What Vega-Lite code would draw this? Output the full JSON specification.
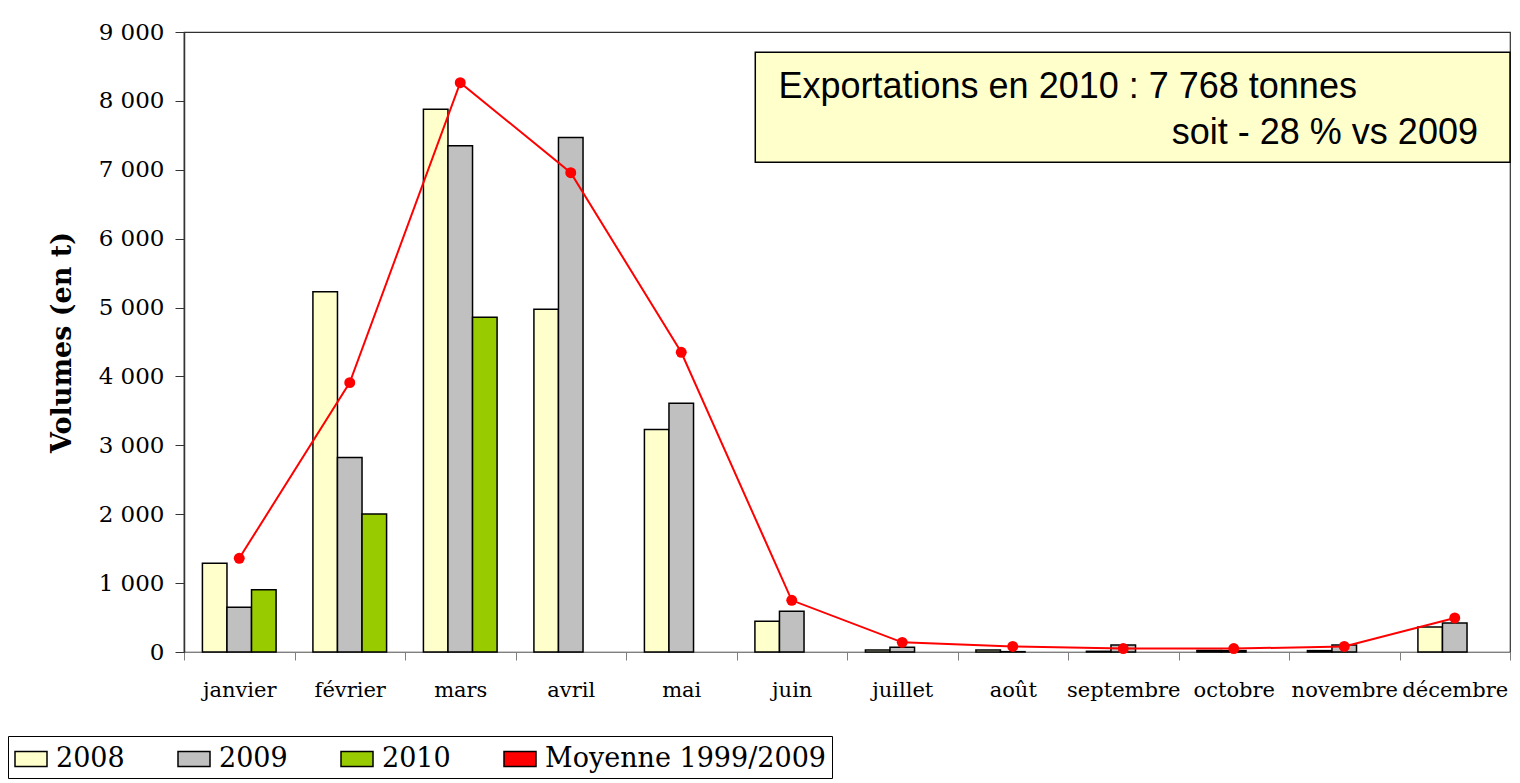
{
  "$schema": "https://vega.github.io/schema/vega-lite/v6.json",
  "autosize": {"type": "none"},
  "padding": {"left": 184, "top": 32, "right": 10, "bottom": 131},
  "width": 1326,
  "height": 620,
  "background": "white",
  "config": {
    "view": {"stroke": "#303030", "strokeWidth": 1.2},
    "axis": {"grid": false}
  },
  "datasets": {
    "barres": [
      {"mois": "janvier", "annee": "2008", "volume": 1287},
      {"mois": "janvier", "annee": "2009", "volume": 649},
      {"mois": "janvier", "annee": "2010", "volume": 905},
      {"mois": "février", "annee": "2008", "volume": 5230},
      {"mois": "février", "annee": "2009", "volume": 2822},
      {"mois": "février", "annee": "2010", "volume": 2005},
      {"mois": "mars", "annee": "2008", "volume": 7877},
      {"mois": "mars", "annee": "2009", "volume": 7350},
      {"mois": "mars", "annee": "2010", "volume": 4858},
      {"mois": "avril", "annee": "2008", "volume": 4975},
      {"mois": "avril", "annee": "2009", "volume": 7470},
      {"mois": "mai", "annee": "2008", "volume": 3230},
      {"mois": "mai", "annee": "2009", "volume": 3610},
      {"mois": "juin", "annee": "2008", "volume": 446},
      {"mois": "juin", "annee": "2009", "volume": 591},
      {"mois": "juillet", "annee": "2008", "volume": 30},
      {"mois": "juillet", "annee": "2009", "volume": 70},
      {"mois": "août", "annee": "2008", "volume": 30},
      {"mois": "août", "annee": "2009", "volume": 5},
      {"mois": "septembre", "annee": "2008", "volume": 10},
      {"mois": "septembre", "annee": "2009", "volume": 100},
      {"mois": "octobre", "annee": "2008", "volume": 20},
      {"mois": "octobre", "annee": "2009", "volume": 20},
      {"mois": "novembre", "annee": "2008", "volume": 20},
      {"mois": "novembre", "annee": "2009", "volume": 100},
      {"mois": "décembre", "annee": "2008", "volume": 363},
      {"mois": "décembre", "annee": "2009", "volume": 421}
    ],
    "moyenne": [
      {"mois": "janvier", "volume": 1360},
      {"mois": "février", "volume": 3910},
      {"mois": "mars", "volume": 8264},
      {"mois": "avril", "volume": 6958},
      {"mois": "mai", "volume": 4350},
      {"mois": "juin", "volume": 750},
      {"mois": "juillet", "volume": 140},
      {"mois": "août", "volume": 80},
      {"mois": "septembre", "volume": 50},
      {"mois": "octobre", "volume": 50},
      {"mois": "novembre", "volume": 80},
      {"mois": "décembre", "volume": 494}
    ],
    "note": [{"l1": "Exportations en 2010 : 7 768 tonnes", "l2": "soit - 28 % vs 2009"}]
  },
  "encoding": {
    "x": {
      "field": "mois",
      "type": "nominal",
      "sort": null,
      "scale": {
        "type": "band",
        "domain": ["janvier", "février", "mars", "avril", "mai", "juin", "juillet", "août", "septembre", "octobre", "novembre", "décembre"],
        "paddingInner": 0,
        "paddingOuter": 0
      },
      "axis": {
        "title": null,
        "labelAngle": 0,
        "labelFont": "DejaVu Serif",
        "labelFontSize": 21,
        "labelColor": "#000000",
        "labelPadding": 19,
        "labelOverlap": false,
        "tickBand": "extent",
        "tickSize": 8,
        "tickColor": "#808080",
        "domainColor": "#808080",
        "domainWidth": 1.2
      }
    }
  },
  "layer": [
    {
      "data": {"name": "barres"},
      "mark": {"type": "bar", "stroke": "#000000", "strokeWidth": 1.5},
      "encoding": {
        "xOffset": {
          "field": "annee",
          "type": "nominal",
          "scale": {"domain": ["2008", "2009", "2010"], "paddingInner": 0, "paddingOuter": 0.75}
        },
        "y": {
          "field": "volume",
          "type": "quantitative",
          "scale": {"domain": [0, 9000], "nice": false},
          "axis": {
            "title": "Volumes (en t)",
            "titleFont": "DejaVu Serif",
            "titleFontSize": 27,
            "titleFontWeight": "bold",
            "titleColor": "#000000",
            "titleX": -122,
            "titleY": 310,
            "titleAngle": -90,
            "titleAlign": "center",
            "titleBaseline": "middle",
            "values": [0, 1000, 2000, 3000, 4000, 5000, 6000, 7000, 8000, 9000],
            "labelExpr": "datum.value == 0 ? '0' : floor(datum.value / 1000) + ' 000'",
            "labelFont": "DejaVu Serif",
            "labelFontSize": 23,
            "labelColor": "#000000",
            "labelPadding": 11,
            "tickSize": 9,
            "tickColor": "#333333",
            "domainColor": "#333333",
            "domainWidth": 1.5
          }
        },
        "color": {
          "field": "annee",
          "type": "nominal",
          "scale": {
            "domain": ["2008", "2009", "2010", "Moyenne 1999/2009"],
            "range": ["#FFFFCC", "#C0C0C0", "#99CC00", "#FF0000"]
          },
          "legend": {
            "orient": "none",
            "legendX": -176,
            "legendY": 704,
            "direction": "horizontal",
            "title": null,
            "strokeColor": "#000000",
            "fillColor": "#FFFFFF",
            "padding": 6,
            "columnPadding": 50,
            "labelFont": "DejaVu Serif",
            "labelFontSize": 27,
            "labelColor": "#000000",
            "labelOffset": 8,
            "labelLimit": 500,
            "symbolSize": 1024,
            "symbolType": "M-1,-0.47L1,-0.47L1,0.47L-1,0.47Z",
            "symbolStrokeWidth": 1.5,
            "encode": {
              "symbols": {
                "update": {
                  "shape": {"signal": "datum.value === 'Moyenne 1999/2009' ? 'M-1.25,0L1.25,0M-0.3,0A0.3,0.3 0 1,0 0.3,0A0.3,0.3 0 1,0 -0.3,0Z' : 'M-1,-0.47L1,-0.47L1,0.47L-1,0.47Z'"},
                  "stroke": {"signal": "datum.value === 'Moyenne 1999/2009' ? '#FF0000' : '#000000'"},
                  "strokeWidth": {"value": 1.5},
                  "strokeOpacity": {"value": 1},
                  "opacity": {"value": 1},
                  "fillOpacity": {"value": 1}
                }
              }
            }
          }
        }
      }
    },
    {
      "data": {"name": "moyenne"},
      "mark": {"type": "line", "strokeWidth": 2, "color": "#FF0000"},
      "encoding": {
        "y": {"field": "volume", "type": "quantitative"}
      }
    },
    {
      "data": {"name": "moyenne"},
      "mark": {"type": "circle", "size": 120, "opacity": 1},
      "encoding": {
        "y": {"field": "volume", "type": "quantitative"},
        "color": {
          "datum": "Moyenne 1999/2009",
          "legend": {
            "orient": "none",
            "legendX": -176,
            "legendY": 704,
            "direction": "horizontal",
            "title": null,
            "strokeColor": "#000000",
            "fillColor": "#FFFFFF",
            "padding": 6,
            "columnPadding": 50,
            "labelFont": "DejaVu Serif",
            "labelFontSize": 27,
            "labelColor": "#000000",
            "labelOffset": 8,
            "labelLimit": 500,
            "symbolSize": 1024,
            "symbolType": "M-1,-0.47L1,-0.47L1,0.47L-1,0.47Z",
            "symbolStrokeWidth": 1.5,
            "encode": {
              "symbols": {
                "update": {
                  "shape": {"signal": "datum.value === 'Moyenne 1999/2009' ? 'M-1.25,0L1.25,0M-0.3,0A0.3,0.3 0 1,0 0.3,0A0.3,0.3 0 1,0 -0.3,0Z' : 'M-1,-0.47L1,-0.47L1,0.47L-1,0.47Z'"},
                  "stroke": {"signal": "datum.value === 'Moyenne 1999/2009' ? '#FF0000' : '#000000'"},
                  "strokeWidth": {"value": 1.5},
                  "strokeOpacity": {"value": 1},
                  "opacity": {"value": 1},
                  "fillOpacity": {"value": 1}
                }
              }
            }
          }
        }
      }
    },
    {
      "data": {"name": "note"},
      "mark": {"type": "rect", "fill": "#FFFFCC", "stroke": "#000000", "strokeWidth": 1.5},
      "encoding": {
        "x": {"datum": "juin", "bandPosition": 0.17},
        "x2": {"datum": "décembre", "bandPosition": 1},
        "y": {"datum": 8705},
        "y2": {"datum": 7110}
      }
    },
    {
      "data": {"name": "note"},
      "mark": {"type": "text", "align": "left", "baseline": "middle", "font": "Liberation Sans", "fontSize": 36, "color": "#000000"},
      "encoding": {
        "x": {"datum": "juin", "bandPosition": 0.38},
        "y": {"datum": 8200},
        "text": {"field": "l1"}
      }
    },
    {
      "data": {"name": "note"},
      "mark": {"type": "text", "align": "right", "baseline": "middle", "font": "Liberation Sans", "fontSize": 36, "color": "#000000"},
      "encoding": {
        "x": {"datum": "décembre", "bandPosition": 0.71},
        "y": {"datum": 7530},
        "text": {"field": "l2"}
      }
    }
  ]
}
